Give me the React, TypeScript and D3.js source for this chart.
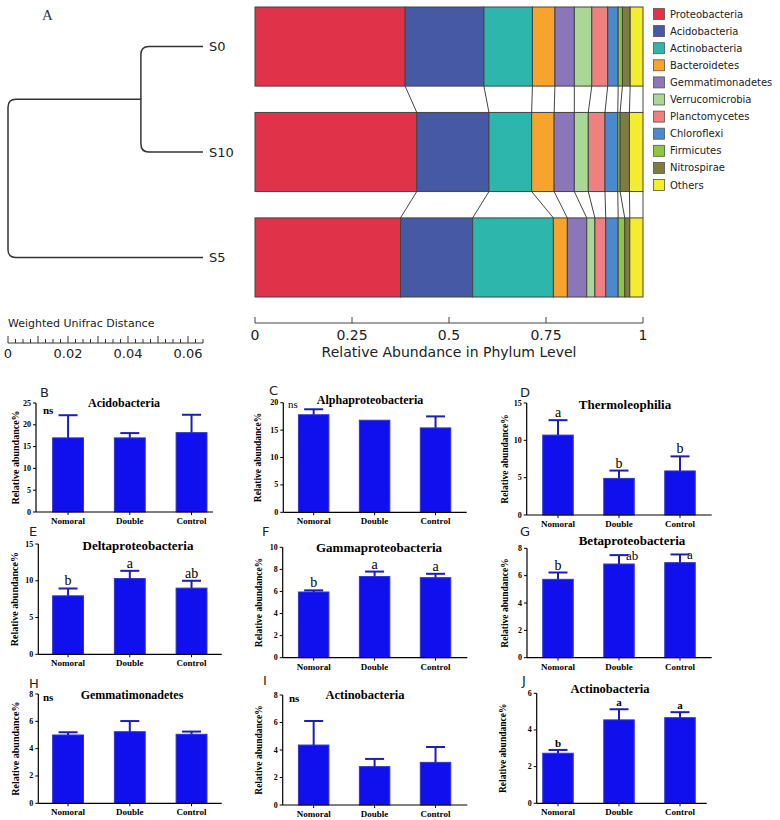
import React from 'react';
import * as d3 from 'd3';

// ---------- Panel A data ----------
const phyla = ['Proteobacteria','Acidobacteria','Actinobacteria','Bacteroidetes','Gemmatimonadetes','Verrucomicrobia','Planctomycetes','Chloroflexi','Firmicutes','Nitrospirae','Others'];
const phylumColors = ['#E0334A','#4559A5','#2DB6AB','#F7A42F','#8B76B9','#A9D796','#EF8080','#4A89CB','#8DC641','#7E7C3F','#F4EC2F'];
const samples = ['S0','S10','S5'];
const abundS0 = [0.387,0.203,0.125,0.058,0.050,0.045,0.041,0.027,0.011,0.020,0.033];
const abundS10 = [0.417,0.186,0.110,0.058,0.052,0.036,0.043,0.033,0.006,0.024,0.035];
const abundS5 = [0.375,0.186,0.208,0.036,0.050,0.021,0.028,0.032,0.017,0.013,0.034];
const abundanceTicks = [0,0.25,0.5,0.75,1];
const distanceTicks = [0,0.02,0.04,0.06];
const mergeS0S10 = 0.0207;
const mergeRoot = 0.065;

// ---------- Panels B-J data ----------
const groups = ['Nomoral','Double','Control'];
const acidoMean = [17.0,17.0,18.2]; const acidoSD = [5.2,1.1,4.1];
const alphaMean = [17.8,16.8,15.4]; const alphaSD = [1.0,0,2.1];
const thermoMean = [10.7,4.9,5.9]; const thermoSD = [2.0,1.05,1.95]; const thermoSig = ['a','b','b'];
const deltaMean = [7.95,10.3,9.0]; const deltaSD = [1.0,1.05,1.0]; const deltaSig = ['b','a','ab'];
const gammaMean = [5.95,7.35,7.25]; const gammaSD = [0.15,0.45,0.35]; const gammaSig = ['b','a','a'];
const betaMean = [5.73,6.85,6.95]; const betaSD = [0.5,0.65,0.6]; const betaSig = ['b','ab','a'];
const gemmaMean = [5.0,5.24,5.05]; const gemmaSD = [0.2,0.78,0.2];
const actinoIMean = [4.36,2.79,3.1]; const actinoISD = [1.75,0.56,1.12];
const actinoJMean = [2.73,4.55,4.67]; const actinoJSD = [0.18,0.58,0.3]; const actinoJSig = ['b','a','a'];

const SERIF = '"Liberation Serif", "Times New Roman", serif';
const SANS = '"DejaVu Sans", sans-serif';
const BAR_FILL = '#1010EE';
const BAR_STROKE = '#3434C8';
const ERR = '#1E1EB4';

type Mode = 'above' | 'right';
type PanelDef = {
  tag: string; tagX: number; tagY: number;
  title: string; titleX: number; titleY: number; titleSize: number;
  mean: number[]; sd: number[]; sig?: string[]; sigMode?: Mode[]; sigBold?: boolean;
  ns?: { x: number; y: number; bold: boolean };
  axisX: number; axisRight: number; y0: number; yTop: number; ymax: number; step: number;
  band: [number, number]; ylabX: number; ylabSize: number;
};

const col1: [number, number] = [37.2, 222.4];
const col2: [number, number] = [283.2, 466.0];
const col3: [number, number] = [527.5, 710.5];
const ABOVE: Mode[] = ['above','above','above'];

const panels: PanelDef[] = [
  { tag:'B', tagX:40, tagY:397, title:'Acidobacteria', titleX:124, titleY:407, titleSize:12, mean:acidoMean, sd:acidoSD,
    ns:{x:43,y:414,bold:true}, axisX:36, axisRight:213, y0:512, yTop:403, ymax:25, step:5, band:col1, ylabX:15, ylabSize:10 },
  { tag:'C', tagX:269, tagY:395, title:'Alphaproteobacteria', titleX:370, titleY:404, titleSize:12, mean:alphaMean, sd:alphaSD,
    ns:{x:288,y:408,bold:false}, axisX:283.3, axisRight:466.7, y0:512.3, yTop:402.7, ymax:20, step:5, band:col2, ylabX:258, ylabSize:9.5 },
  { tag:'D', tagX:520, tagY:397, title:'Thermoleophilia', titleX:625, titleY:409, titleSize:13, mean:thermoMean, sd:thermoSD, sig:thermoSig, sigMode:ABOVE,
    axisX:526.7, axisRight:711.7, y0:515, yTop:403, ymax:15, step:5, band:col3, ylabX:505, ylabSize:9.5 },
  { tag:'E', tagX:29, tagY:536, title:'Deltaproteobacteria', titleX:138, titleY:550, titleSize:13, mean:deltaMean, sd:deltaSD, sig:deltaSig, sigMode:ABOVE,
    axisX:38.3, axisRight:221.7, y0:654.3, yTop:544, ymax:15, step:5, band:col1, ylabX:14, ylabSize:10 },
  { tag:'F', tagX:262, tagY:536, title:'Gammaproteobacteria', titleX:379, titleY:552, titleSize:13, mean:gammaMean, sd:gammaSD, sig:gammaSig, sigMode:ABOVE,
    axisX:282.7, axisRight:467.3, y0:657.7, yTop:547.3, ymax:10, step:2, band:col2, ylabX:259, ylabSize:9.5 },
  { tag:'G', tagX:520, tagY:536, title:'Betaproteobacteria', titleX:632, titleY:545, titleSize:13, mean:betaMean, sd:betaSD, sig:betaSig, sigMode:['above','right','right'],
    axisX:527, axisRight:711.7, y0:657.7, yTop:548.3, ymax:8, step:2, band:col3, ylabX:505, ylabSize:9.5 },
  { tag:'H', tagX:29, tagY:688, title:'Gemmatimonadetes', titleX:132, titleY:699, titleSize:12, mean:gemmaMean, sd:gemmaSD,
    ns:{x:43,y:701,bold:true}, axisX:38.3, axisRight:221.7, y0:803.3, yTop:694, ymax:8, step:2, band:col1, ylabX:15, ylabSize:10 },
  { tag:'I', tagX:263, tagY:685, title:'Actinobacteria', titleX:365, titleY:699, titleSize:12.5, mean:actinoIMean, sd:actinoISD,
    ns:{x:289,y:702,bold:true}, axisX:282.7, axisRight:467.3, y0:805, yTop:695, ymax:8, step:2, band:col2, ylabX:259, ylabSize:9.5 },
  { tag:'J', tagX:522, tagY:685, title:'Actinobacteria', titleX:610, titleY:693, titleSize:12.5, mean:actinoJMean, sd:actinoJSD, sig:actinoJSig, sigMode:ABOVE, sigBold:true,
    axisX:536.7, axisRight:706.7, y0:803.3, yTop:693.3, ymax:6, step:2, band:col3, ylabX:503, ylabSize:9.5 },
];

function BarPanel({ p }: { p: PanelDef }) {
  const y = d3.scaleLinear().domain([0, p.ymax]).range([p.y0, p.yTop]);
  const x = d3.scaleBand<string>().domain(groups).range(p.band).paddingInner(0.5).paddingOuter(0.25);
  const ticks = d3.range(0, p.ymax + 1e-9, p.step);
  const bw = x.bandwidth();
  return (
    <g>
      <text x={p.tagX} y={p.tagY} fontFamily={SANS} fontSize={13} fill="#222">{p.tag}</text>
      <text x={p.titleX} y={p.titleY} textAnchor="middle" fontFamily={SERIF} fontWeight="bold" fontSize={p.titleSize} fill="#000">{p.title}</text>
      <text transform={`translate(${p.ylabX},${(p.y0 + p.yTop) / 2}) rotate(-90)`} textAnchor="middle" dominantBaseline="central"
        fontFamily={SERIF} fontWeight="bold" fontSize={p.ylabSize} fill="#000">Relative abundance%</text>
      {groups.map((g, i) => {
        const cx = (x(g) as number) + bw / 2;
        const top = y(p.mean[i]);
        const et = y(p.mean[i] + p.sd[i]);
        const mode = p.sigMode ? p.sigMode[i] : 'above';
        return (
          <g key={g}>
            <rect x={x(g)} y={top} width={bw} height={p.y0 - top} fill={BAR_FILL} stroke={BAR_STROKE} strokeWidth={1} />
            {p.sd[i] > 0 && (
              <g stroke={ERR} strokeWidth={2}>
                <line x1={cx} x2={cx} y1={top} y2={et} />
                <line x1={cx - 9.5} x2={cx + 9.5} y1={et} y2={et} />
              </g>
            )}
            {p.sig && (mode === 'right' ? (
              <text x={cx + 7} y={et + 5} fontFamily={SERIF} fontSize={13} fill="#000">{p.sig[i]}</text>
            ) : (
              <text x={cx} y={et - 3} textAnchor="middle" fontFamily={SERIF} fontSize={p.sigBold ? 11 : 14}
                fontWeight={p.sigBold ? 'bold' : 'normal'} fill="#000">{p.sig[i]}</text>
            ))}
            <line x1={cx} x2={cx} y1={p.y0} y2={p.y0 + 3} stroke="#000" strokeWidth={1} />
            <text x={cx} y={p.y0 + 12} textAnchor="middle" fontFamily={SERIF} fontWeight="bold" fontSize={9} fill="#000">{g}</text>
          </g>
        );
      })}
      <line x1={p.axisX} x2={p.axisX} y1={p.yTop} y2={p.y0} stroke="#000" strokeWidth={1.2} />
      <line x1={p.axisX} x2={p.axisRight} y1={p.y0} y2={p.y0} stroke="#000" strokeWidth={1.2} />
      {ticks.map(t => (
        <g key={t}>
          <line x1={p.axisX - 3} x2={p.axisX} y1={y(t)} y2={y(t)} stroke="#000" strokeWidth={1} />
          <text x={p.axisX - 5} y={y(t)} textAnchor="end" dominantBaseline="central" fontFamily={SERIF} fontWeight="bold" fontSize={8} fill="#000">{t}</text>
        </g>
      ))}
      {p.ns && (
        <text x={p.ns.x} y={p.ns.y} fontFamily={SERIF} fontWeight={p.ns.bold ? 'bold' : 'normal'} fontSize={11} fill="#000">ns</text>
      )}
    </g>
  );
}

function PanelA() {
  const ax = d3.scaleLinear().domain([0, 1]).range([255, 643]);
  const rows = d3.scaleBand<string>().domain(samples).range([7, 297]).paddingInner(0.25);
  const h = rows.bandwidth();
  const data = [abundS0, abundS10, abundS5];
  const cum = data.map(arr => { let s = 0; return arr.map(v => { const a = s; s += v; return [a, s]; }); });
  const dist = d3.scaleLinear().domain([0, mergeRoot]).range([8, 203]);
  const treeX = (hgt: number) => dist(mergeRoot - hgt);
  const yc = (s: string) => (rows(s) as number) + h / 2;
  const r = 8;
  const elbow = (xn: number, y1: number, y2: number, x1: number, x2: number) =>
    `M${x1},${y1}H${xn + r}Q${xn},${y1} ${xn},${y1 + r}V${y2 - r}Q${xn},${y2} ${xn + r},${y2}H${x2}`;
  const nS = treeX(mergeS0S10);
  const nR = treeX(mergeRoot);
  const leafX = treeX(0);
  const midS = (yc('S0') + yc('S10')) / 2;
  const minorTicks = d3.range(0, 0.0651, 0.0025);
  return (
    <g>
      <text x={42} y={20} fontFamily={SERIF} fontSize={15} fill="#333">A</text>
      <g fill="none" stroke="#333" strokeWidth={1.5}>
        <path d={elbow(nS, yc('S0'), yc('S10'), leafX, leafX)} />
        <path d={elbow(nR, midS, yc('S5'), nS, leafX)} />
      </g>
      {samples.map(s => (
        <text key={s} x={leafX + 6} y={yc(s)} dominantBaseline="central" fontFamily={SANS} fontSize={13} fill="#222">{s}</text>
      ))}
      <text x={8} y={327} fontFamily={SANS} fontSize={11} fill="#222">Weighted Unifrac Distance</text>
      <line x1={dist(0)} x2={dist(0.065)} y1={343} y2={343} stroke="#333" strokeWidth={1} />
      {minorTicks.map((t, i) => (
        <line key={i} x1={dist(t)} x2={dist(t)} y1={343} y2={i % 4 === 0 ? 336 : 339} stroke="#333" strokeWidth={1} />
      ))}
      {distanceTicks.map(t => (
        <text key={t} x={dist(t)} y={358} textAnchor="middle" fontFamily={SANS} fontSize={13} fill="#222">{t}</text>
      ))}
      {[0, 1].map(k => {
        const yA = (rows(samples[k]) as number) + h;
        const yB = rows(samples[k + 1]) as number;
        return cum[k].map((c, j) => (
          <line key={`${k}-${j}`} x1={ax(c[1])} x2={ax(cum[k + 1][j][1])} y1={yA} y2={yB} stroke="#444" strokeWidth={1} />
        ));
      })}
      {samples.map((s, k) => cum[k].map((c, j) => (
        <rect key={`${s}-${j}`} x={ax(c[0])} y={rows(s)} width={ax(c[1]) - ax(c[0])} height={h}
          fill={phylumColors[j]} stroke="#444" strokeWidth={1} />
      )))}
      <line x1={ax(0)} x2={ax(1)} y1={323} y2={323} stroke="#444" strokeWidth={1} />
      {abundanceTicks.map(t => (
        <g key={t}>
          <line x1={ax(t)} x2={ax(t)} y1={317} y2={323} stroke="#444" strokeWidth={1} />
          <text x={ax(t)} y={340} textAnchor="middle" fontFamily={SANS} fontSize={14} fill="#222">{t}</text>
        </g>
      ))}
      <text x={ax(0.5)} y={357} textAnchor="middle" fontFamily={SANS} fontSize={14} fill="#222">Relative Abundance in Phylum Level</text>
      {phyla.map((name, i) => (
        <g key={name}>
          <rect x={653.5} y={8.5 + i * 17.1} width={11} height={11} fill={phylumColors[i]} stroke="#555" strokeWidth={0.8} />
          <text x={670} y={14 + i * 17.1} dominantBaseline="central" fontFamily={SANS} fontSize={10} fill="#222">{name}</text>
        </g>
      ))}
    </g>
  );
}

export default function App() {
  return (
    <svg width={780} height={820} style={{ position: 'absolute', left: 0, top: 0, background: '#fff' }}>
      <rect width={780} height={820} fill="#fff" />
      <PanelA />
      {panels.map(p => <BarPanel key={p.tag} p={p} />)}
    </svg>
  );
}
